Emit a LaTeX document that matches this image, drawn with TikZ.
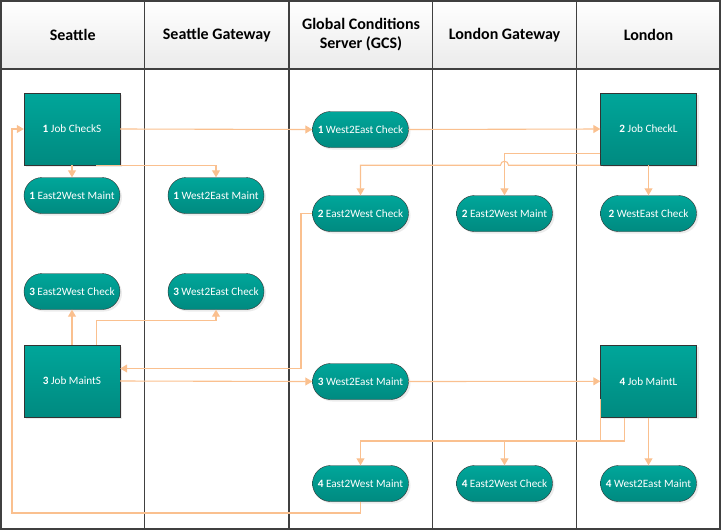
\documentclass[tikz,border=0pt]{standalone}
\usepackage{fontspec}
\setmainfont{Carlito}
\usetikzlibrary{arrows.meta,calc,shadows}

\definecolor{tealtop}{RGB}{0,166,154}
\definecolor{tealbot}{RGB}{0,138,128}
\definecolor{flow}{RGB}{250,192,143}
\definecolor{frame}{RGB}{64,64,64}

\begin{document}
\begin{tikzpicture}[x=1pt,y=-1pt,
  job/.style={rectangle,draw=black!80,top color=tealtop,bottom color=tealbot,
    minimum width=96pt,minimum height=72pt,inner sep=0pt,text=white,
    font=\fontsize{11.2}{13}\selectfont,
    drop shadow={shadow xshift=2pt,shadow yshift=-2pt,fill=black!15}},
  task/.style={job,minimum height=36pt,rounded corners=18pt},
  a/.style={-{Triangle[length=7pt,width=8pt]},draw=flow,line width=1.1pt},
  lane/.style={draw=frame,line width=1.4pt},
  head/.style={font=\fontsize{16}{19}\selectfont\bfseries,align=center}]

\useasboundingbox (0,0) rectangle (722,531);

% swimlanes
\fill[top color=white,bottom color=black!8] (1,1) rectangle (720,69);
\draw[lane] (1,1) rectangle (720,529);
\draw[lane] (1,69) -- (720,69);
\foreach \cx in {144.5,289,432.5,576.5}
  \draw[lane] (\cx,1) -- (\cx,529);

\node[head] (hs) at (72.75,35) {Seattle};
\node[head] (hsg) at (216.75,35) {Seattle Gateway};
\node[head] (hgcs) at (361,35) {Global Conditions\\Server (GCS)};
\node[head] (hlg) at (504.5,35) {London Gateway};
\node[head] (hl) at (648.5,35) {London};

% step 1: Seattle checks
\node[job] (jcs) at (72,129) {\textbf{1} Job CheckS};
\node[task] (e2wm1) at (72,195.5) {\textbf{1} East2West Maint};
\node[task] (w2em1) at (216,195.5) {\textbf{1} West2East Maint};
\node[task] (w2ec1) at (360.5,129.5) {\textbf{1} West2East Check};

% step 2: London checks
\node[job] (jcl) at (648.5,129) {\textbf{2} Job CheckL};
\node[task] (e2wc2) at (360.5,213.5) {\textbf{2} East2West Check};
\node[task] (e2wm2) at (504.5,213.5) {\textbf{2} East2West Maint};
\node[task] (wec2) at (648.5,213.5) {\textbf{2} WestEast Check};

% step 3: Seattle maintenance
\node[task] (e2wc3) at (72,291.5) {\textbf{3} East2West Check};
\node[task] (w2ec3) at (216,291.5) {\textbf{3} West2East Check};
\node[job] (jms) at (72,381) {\textbf{3} Job MaintS};
\node[task] (w2em3) at (360.5,381.5) {\textbf{3} West2East Maint};

% step 4: London maintenance
\node[job] (jml) at (648.5,381.3) {\textbf{4} Job MaintL};
\node[task] (e2wm4) at (360.5,483.5) {\textbf{4} East2West Maint};
\node[task] (e2wc4) at (504.5,483.5) {\textbf{4} East2West Check};
\node[task] (w2em4) at (648.5,483.5) {\textbf{4} West2East Maint};

% bend points
\coordinate (hop) at (e2wm2.north |- jcl.south west);
\coordinate (down2) at (301,368.5);
\coordinate (bus4) at (0,441);
\coordinate (back) at (12,513);
\coordinate (jmlb) at ($(jml.south)!.5!(jml.south west)$);
\coordinate (jmll) at ($(jml.west)!.5!(jml.south west)$);

% flows
\draw[a] (jcs.east) -- (w2ec1.west);
\draw[a] (jcs.south) -- (e2wm1.north);
\draw[a] ($(jcs.south)!.5!(jcs.south east)$) -| (w2em1.north);
\draw[a] (w2ec1.east) -- (jcl.west);
\draw[a] (jcl.south) -- (wec2.north);
\draw[a] ($(jcl.west)!.67!(jcl.south west)$) -| (e2wm2.north);
\draw[a] (jcl.south west) -- ([xshift=4pt]hop) arc[start angle=0,end angle=180,radius=4pt]
  -- (hop -| e2wc2.north) -- (e2wc2.north);
\draw[a] (e2wc2.west) -| (down2) -- (down2 -| jms.east);
\draw[a] (jms.north) -- (e2wc3.south);
\draw[a] ($(jms.north)!.5!(jms.north east)$) -- ++(0,-24) -| (w2ec3.south);
\draw[a] (jms.east) -- (w2em3.west);
\draw[a] (w2em3.east) -- (jml.west);
\draw[a] (jml.south) -- (w2em4.north);
\draw[a] (jmlb) -- (jmlb |- bus4) -| (e2wm4.north);
\draw[a] (jmll) -- (jmll |- bus4) -| (e2wc4.north);
\draw[a] (e2wm4.south) |- (back) |- (jcs.west);
\end{tikzpicture}
\end{document}
